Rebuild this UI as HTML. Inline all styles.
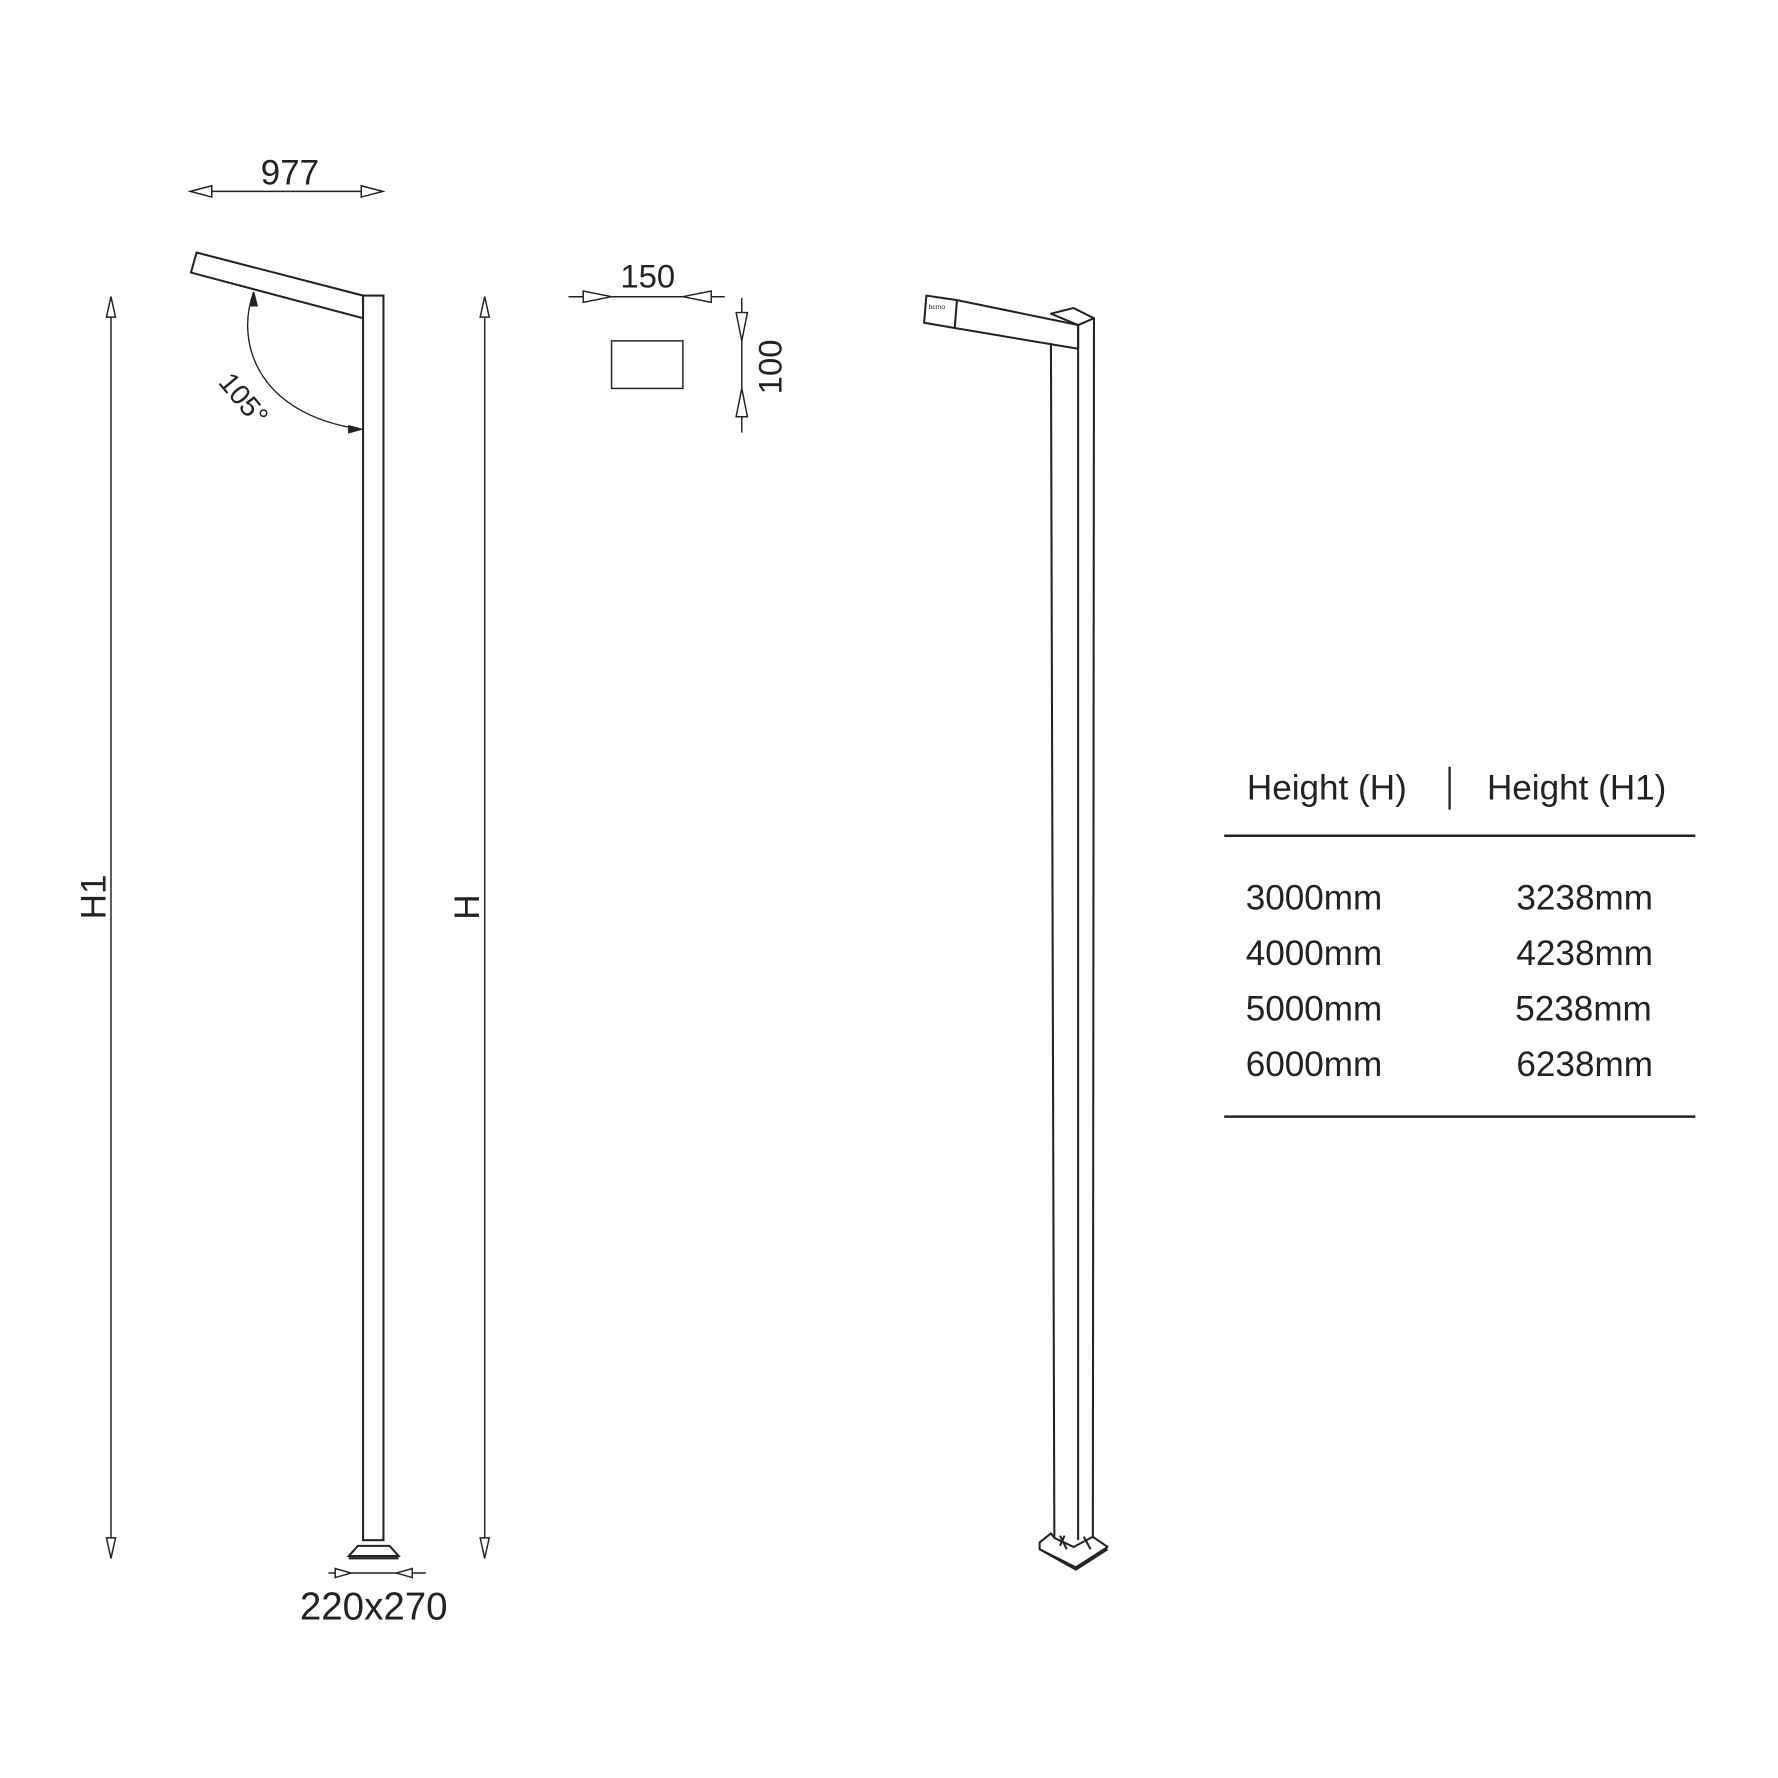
<!DOCTYPE html>
<html><head><meta charset="utf-8"><style>html,body{margin:0;padding:0;background:#fff}svg{display:block}</style></head>
<body>
<svg width="1778" height="1778" viewBox="0 0 1570 1570" xmlns="http://www.w3.org/2000/svg" font-family="Liberation Sans, sans-serif" fill="none" stroke="#222" stroke-width="1.3">
<!-- 977 dimension -->
<line x1="168" y1="169" x2="338" y2="169"/>
<polygon points="168,169 187,164 187,174" fill="#fff"/>
<polygon points="338,169 319,164 319,174" fill="#fff"/>
<text x="256" y="163" font-size="31" fill="#222" stroke="none" text-anchor="middle">977</text>
<!-- side arm & pole -->
<polygon points="173.6,223 168.6,240.7 320.6,281 320.6,261" stroke-width="1.8" fill="#fff"/>
<rect x="320.6" y="261" width="18" height="1099" stroke-width="1.8" fill="#fff"/>
<polygon points="308,1374 352,1374 344,1365 316,1365" stroke-width="1.8" fill="#fff"/>
<line x1="308" y1="1376" x2="352" y2="1376" stroke-width="2"/>
<!-- angle -->
<path d="M224,258 C208,300 225,365 318,379" stroke-width="1.2"/>
<polygon points="224,258 221,270 227,270" fill="#222"/>
<polygon points="319,379 308,376 308,382" fill="#222"/>
<text x="0" y="0" font-size="25" fill="#222" stroke="none" transform="translate(192,338) rotate(50)">105°</text>
<!-- 220x270 -->
<line x1="290" y1="1389" x2="376" y2="1389"/>
<polygon points="310,1389 296,1385 296,1393" fill="#fff"/>
<polygon points="350,1389 364,1385 364,1393" fill="#fff"/>
<text x="330" y="1430" font-size="34" fill="#222" stroke="none" text-anchor="middle">220x270</text>
<!-- H1 -->
<line x1="98" y1="262" x2="98" y2="1376"/>
<polygon points="98,262 94,280 102,280" fill="#fff"/>
<polygon points="98,1376 94,1358 102,1358" fill="#fff"/>
<text font-size="31" fill="#222" stroke="none" text-anchor="middle" transform="translate(93,792) rotate(-90)">H1</text>
<!-- H -->
<line x1="428" y1="262" x2="428" y2="1376"/>
<polygon points="428,262 424,280 432,280" fill="#fff"/>
<polygon points="428,1376 424,1358 432,1358" fill="#fff"/>
<text font-size="31" fill="#222" stroke="none" text-anchor="middle" transform="translate(423,801) rotate(-90)">H</text>
<!-- 150 -->
<line x1="502" y1="262" x2="640" y2="262"/>
<polygon points="540,262 515,257 515,267" fill="#fff"/>
<polygon points="603,262 628,257 628,267" fill="#fff"/>
<text x="572" y="254" font-size="29" fill="#222" stroke="none" text-anchor="middle">150</text>
<rect x="540" y="301" width="63" height="42" stroke-width="1.3"/>
<!-- 100 -->
<line x1="655" y1="263" x2="655" y2="382"/>
<polygon points="655,301 650,276 660,276" fill="#fff"/>
<polygon points="655,343 650,368 660,368" fill="#fff"/>
<text font-size="29" fill="#222" stroke="none" text-anchor="middle" transform="translate(690,324) rotate(-90)">100</text>
<!-- 3D pole -->
<g stroke-width="1.8" stroke-linejoin="round">
<polygon points="928,277 948,272 966,281 952,287" fill="#fff"/>
<polygon points="818,261 845,265 952,287 952,308 845,290 816,285" fill="#fff"/>
<line x1="845" y1="265" x2="843" y2="290"/>
<line x1="928" y1="303" x2="931" y2="1358"/>
<line x1="952" y1="287" x2="952" y2="1360"/>
<line x1="966" y1="281" x2="965" y2="1357"/>
<polygon points="918,1362 928,1354 931,1358 948,1366 965,1357 978,1366 950,1384 918,1368" fill="#fff"/>
<path d="M918,1368 L950,1386 L978,1368"/>
<path d="M936,1365 l4,-9 M942,1368 l-6,-12 M957,1357 l6,11"/>
</g>
<text x="820" y="273" font-size="6" fill="#222" stroke="none">bcmo</text>
<!-- table -->
<g fill="#222" stroke="none" font-size="31">
<text x="1101" y="706">Height (H)</text>
<text x="1313" y="706">Height (H1)</text>
<text x="1100" y="803">3000mm</text><text x="1339" y="803">3238mm</text>
<text x="1100" y="852">4000mm</text><text x="1339" y="852">4238mm</text>
<text x="1100" y="901">5000mm</text><text x="1338" y="901">5238mm</text>
<text x="1100" y="950">6000mm</text><text x="1339" y="950">6238mm</text>
</g>
<line x1="1280" y1="677" x2="1280" y2="715" stroke-width="2"/>
<line x1="1081" y1="738" x2="1497" y2="738" stroke-width="2.2"/>
<line x1="1081" y1="986" x2="1497" y2="986" stroke-width="2.2"/>
</svg>
</body></html>
